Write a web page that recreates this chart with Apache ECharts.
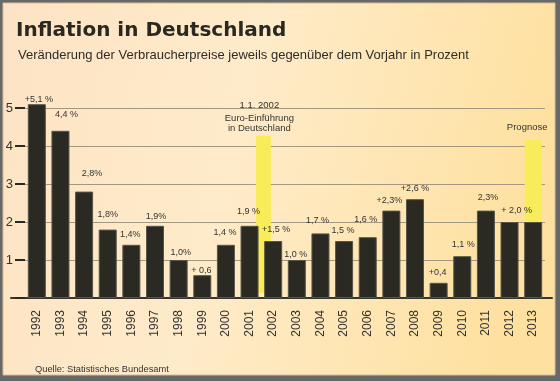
<!DOCTYPE html>
<html>
<head>
<meta charset="utf-8">
<script src="https://cdn.jsdelivr.net/npm/echarts@6/dist/echarts.min.js"></script>
<style>
html,body{margin:0;padding:0;background:#686868;}
#chart{width:560px;height:381px;}
</style>
</head>
<body>
<div id="chart"></div>
<script>
// ---- data ----
const years = ['1992','1993','1994','1995','1996','1997','1998','1999','2000','2001','2002',
               '2003','2004','2005','2006','2007','2008','2009','2010','2011','2012','2013'];
const inflation = [5.1, 4.4, 2.8, 1.8, 1.4, 1.9, 1.0, 0.6, 1.4, 1.9, 1.5,
                   1.0, 1.7, 1.5, 1.6, 2.3, 2.6, 0.4, 1.1, 2.3, 2.0, 2.0];
const valueLabels = ['+5,1 %','4,4 %','2,8%','1,8%','1,4%','1,9%','1,0%','+ 0,6','1,4 %','1,9 %','+1,5 %',
                     '1,0 %','1,7 %','1,5 %','1,6 %','+2,3%','+2,6 %','+0,4','1,1 %','2,3%','+ 2,0 %',''];
const yTicks = [0, 1, 2, 3, 4, 5];
const highlightYears = ['2002', '2013'];
const highlightTops = [4.27, 4.16];
const highlightNotes = [['1.1. 2002', 'Euro-Einführung', 'in Deutschland'], ['Prognose']];

// ---- style-only helpers ----
const labelOffsets = [[2,5],[6,-7],[8,-9],[0,-6],[-1,-1],[1,0],[2,2],[-1,5],[-1,-3],[-1,-5],[3,-2],
                      [-1,4],[-3,-3],[-1,-1],[-2,-8],[-2,-1],[0,-1],[-1,-1],[1,-2],[2,-4],[7,-2],[0,0]];
const highlightStyle = [
  {anchor:'start', width:15, shift:2, bottomGap:5, noteDx:-4, noteDy:[-30,-17,-7]},
  {anchor:'center', width:17, shift:0, bottomGap:0, noteDx:-6, noteDy:[-13]}
];

const FONT = '"Liberation Sans", Arial, sans-serif';
const chart = echarts.init(document.getElementById('chart'));

const barData = inflation.map((v, i) => ({
  value: v,
  label: { offset: labelOffsets[i], show: valueLabels[i] !== '' }
}));

const hlData = highlightYears.map((y, i) => [years.indexOf(y), highlightTops[i], i]);

chart.setOption({
  backgroundColor: '#686868',
  animation: false,
  graphic: [{
    type: 'rect', z: -10, silent: true,
    shape: { x: 3, y: 3, width: 552, height: 372 },
    style: {
      fill: { type: 'linear', x: 0, y: 0, x2: 1, y2: 0.35,
        colorStops: [
          { offset: 0, color: '#fde3c5' },
          { offset: 0.45, color: '#feebc9' },
          { offset: 1, color: '#fee1a0' }
        ] },
      stroke: '#d2bf98', lineWidth: 1
    }
  }],
  title: [
    { text: 'Inflation in Deutschland', left: 11, top: 16,
      textStyle: { fontFamily: '"DejaVu Sans", sans-serif', fontWeight: 'bold', fontSize: 20, color: '#2a2820' } },
    { text: 'Veränderung der Verbraucherpreise jeweils gegenüber dem Vorjahr in Prozent', left: 13, top: 44,
      textStyle: { fontFamily: FONT, fontWeight: 'normal', fontSize: 13, color: '#2f2d28' } },
    { text: 'Quelle: Statistisches Bundesamt', left: 30, top: 360,
      textStyle: { fontFamily: FONT, fontWeight: 'normal', fontSize: 9.3, color: '#333' } }
  ],
  grid: [
    { left: 25, right: 15, top: 108, bottom: 83 },
    { left: 11, right: 8, top: 108, bottom: 83 }
  ],
  xAxis: [
    { type: 'category', data: years, gridIndex: 0,
      axisLine: { show: false }, axisTick: { show: false },
      axisLabel: { rotate: 90, interval: 0, margin: 12, fontSize: 12, color: '#333', fontFamily: FONT } },
    { type: 'value', gridIndex: 1, min: 0, max: 1,
      axisLine: { show: true, onZero: false, lineStyle: { color: '#38362f', width: 2 } },
      axisTick: { show: false }, axisLabel: { show: false }, splitLine: { show: false } }
  ],
  yAxis: [
    { type: 'value', gridIndex: 0, min: yTicks[0], max: yTicks[yTicks.length - 1], interval: 1,
      axisLine: { show: false },
      axisTick: { show: true, length: 10, lineStyle: { color: '#2b2a22', width: 2 } },
      axisLabel: { margin: 12, fontSize: 13, color: '#333', fontFamily: FONT,
        formatter: v => (v === 0 ? '' : String(v)) },
      splitLine: { show: true, lineStyle: { color: '#a2977f', width: 1 } } },
    { type: 'value', gridIndex: 1, min: 0, max: 1, show: false }
  ],
  series: [
    {
      type: 'custom', xAxisIndex: 0, yAxisIndex: 0, z: 2, silent: true,
      data: hlData,
      renderItem: function (params, api) {
        const idx = api.value(0), top = api.value(1), k = api.value(2);
        const st = highlightStyle[k];
        const bw = api.size([1, 0])[0];
        const pTop = api.coord([idx, top]);
        const pBase = api.coord([idx, 0]);
        const cx = st.anchor === 'start' ? pTop[0] - bw / 2 + st.shift : pTop[0] + st.shift;
        const children = [{
          type: 'rect',
          shape: { x: cx - st.width / 2, y: pTop[1], width: st.width, height: pBase[1] - pTop[1] - st.bottomGap },
          style: { fill: '#f9ec5a' }
        }];
        highlightNotes[k].forEach((t, j) => {
          children.push({
            type: 'text',
            style: { text: t, x: cx + st.noteDx, y: pTop[1] + st.noteDy[j], align: 'center', verticalAlign: 'middle',
              fontSize: 9.5, fontFamily: FONT, fill: '#333' }
          });
        });
        return { type: 'group', children: children };
      }
    },
    {
      type: 'bar', xAxisIndex: 0, yAxisIndex: 0, z: 3, clip: false,
      barWidth: 18,
      data: barData,
      itemStyle: { color: '#2b2a22', borderColor: '#57544a', borderWidth: 1 },
      label: {
        show: true, position: 'top', distance: 5,
        fontSize: 9, fontFamily: FONT, color: '#333',
        formatter: p => valueLabels[p.dataIndex]
      }
    }
  ]
});
</script>
</body>
</html>
